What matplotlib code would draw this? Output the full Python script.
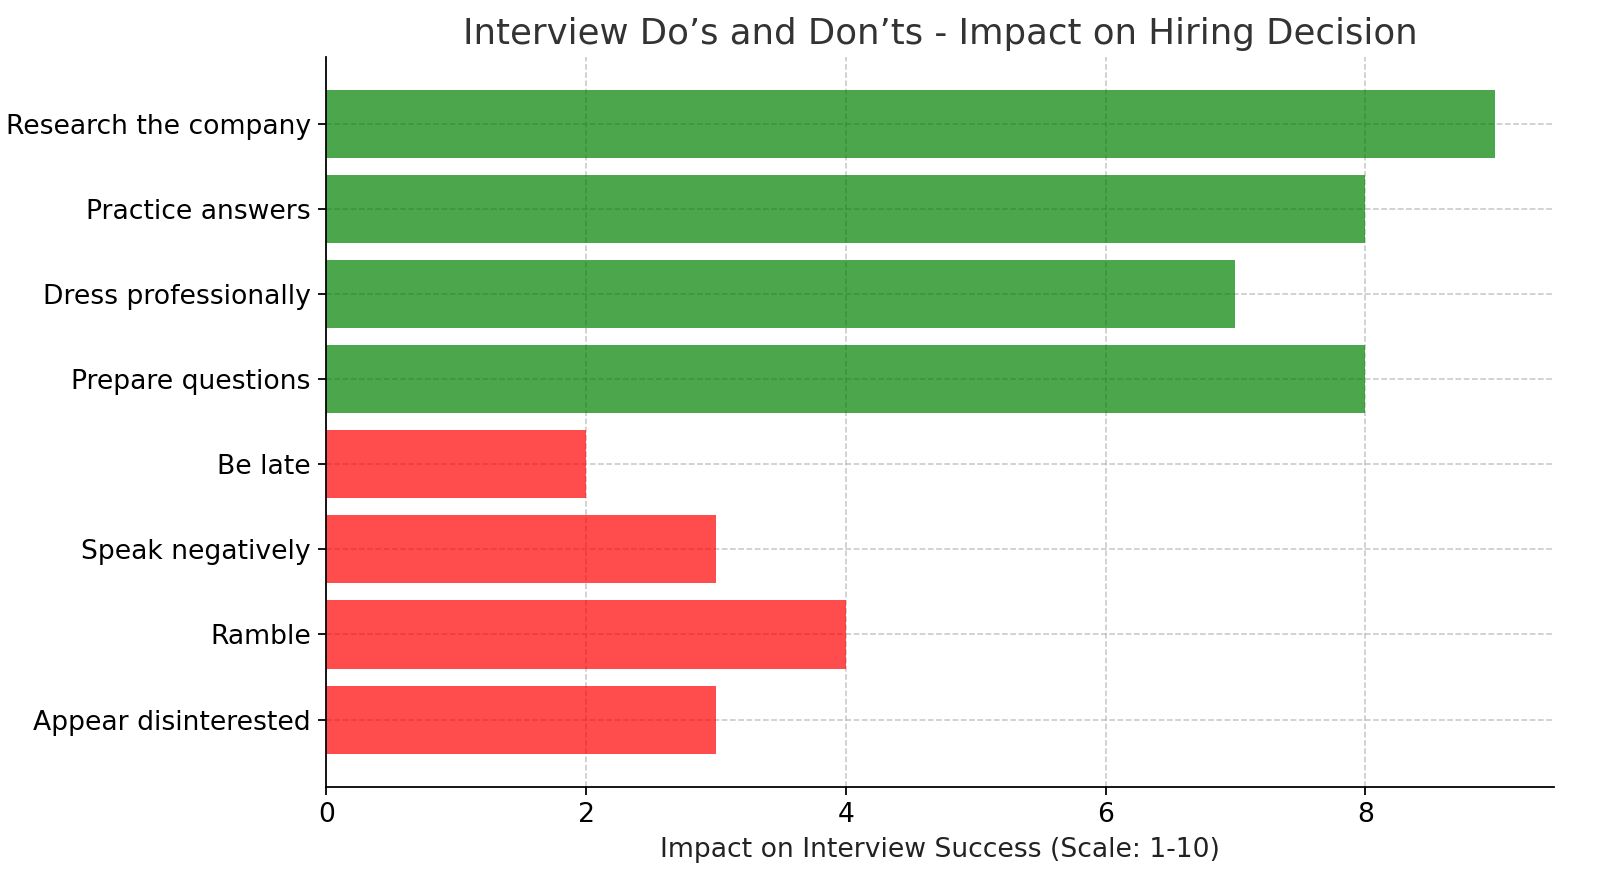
import matplotlib
matplotlib.use("Agg")
import matplotlib.pyplot as plt

# data
actions = [
    "Research the company",
    "Practice answers",
    "Dress professionally",
    "Prepare questions",
    "Be late",
    "Speak negatively",
    "Ramble",
    "Appear disinterested",
]
impact = [9, 8, 7, 8, 2, 3, 4, 3]
is_do = [True, True, True, True, False, False, False, False]


def main():
    colors = ["green" if d else "red" for d in is_do]

    fig = plt.figure(figsize=(10, 5.55625), dpi=160)
    ax = fig.add_axes([0.204, 0.115, 0.767, 0.821])

    ax.barh(actions, impact, color=colors, alpha=0.7)
    ax.invert_yaxis()

    ax.set_title("Interview Do\u2019s and Don\u2019ts - Impact on Hiring Decision",
                 fontsize=16, color="#333333")
    ax.set_xlabel("Impact on Interview Success (Scale: 1-10)", fontsize=12, color="#222222")
    ax.tick_params(axis="both", labelsize=12)

    ax.grid(True, linestyle="--", linewidth=0.7, alpha=0.7, color="#b0b0b0")
    ax.set_axisbelow(True)
    ax.spines["top"].set_visible(False)
    ax.spines["right"].set_visible(False)

    fig.savefig("out.png", dpi=160)


if __name__ == "__main__":
    main()
